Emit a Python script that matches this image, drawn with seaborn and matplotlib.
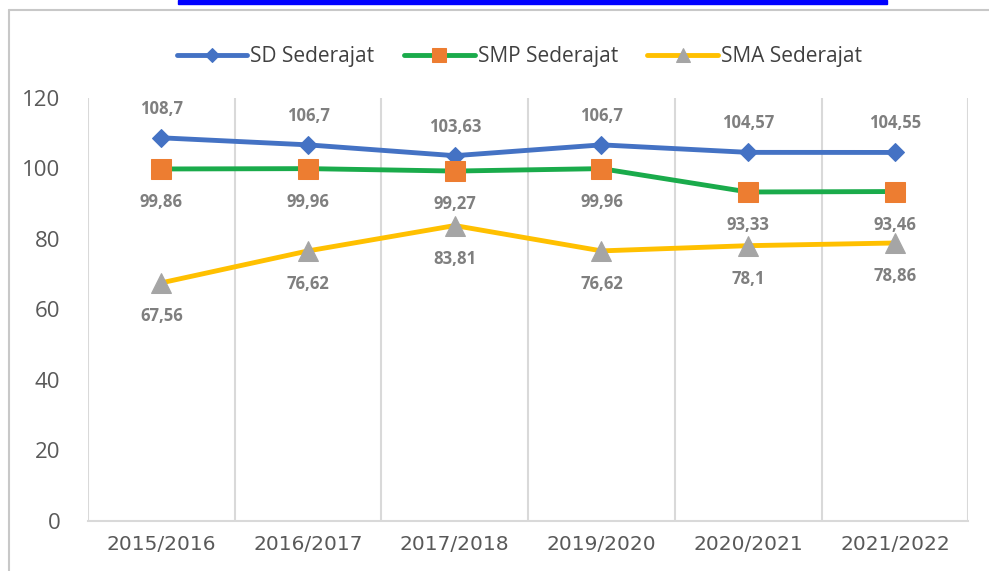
import matplotlib
matplotlib.use("Agg")
import matplotlib.pyplot as plt
import seaborn as sns
import pandas as pd
from matplotlib.lines import Line2D
from matplotlib.patches import Rectangle

# data
tahun = ['2015/2016', '2016/2017', '2017/2018', '2019/2020', '2020/2021', '2021/2022']
sd = [108.7, 106.7, 103.63, 106.7, 104.57, 104.55]
smp = [99.86, 99.96, 99.27, 99.96, 93.33, 93.46]
sma = [67.56, 76.62, 83.81, 76.62, 78.1, 78.86]
series_names = ['SD Sederajat', 'SMP Sederajat', 'SMA Sederajat']

sns.set_theme(style='white')
plt.rcParams['font.family'] = ['Open Sans', 'DejaVu Sans']

fig = plt.figure(figsize=(9.89, 5.71), dpi=100)
ax = fig.add_axes([0.089, 0.0876, 0.890, 0.7408])

styles = [
    # line colour, marker, marker colour, marker size, label offset (pt)
    ('#4472C4', 'D', '#4472C4', 9, 21),
    ('#1AAB4B', 's', '#ED7D31', 14, -24),
    ('#FFC000', '^', '#A5A5A5', 14, -24),
]

for name, vals, (lc, mk, mc, ms, off) in zip(series_names, [sd, smp, sma], styles):
    df = pd.DataFrame({'tahun': tahun, 'nilai': vals})
    sns.lineplot(data=df, x='tahun', y='nilai', ax=ax, color=lc, linewidth=3.5,
                 marker=mk, markersize=ms, markerfacecolor=mc, markeredgecolor=mc,
                 label=name, sort=False)
    for i, v in enumerate(vals):
        txt = f'{v:g}'.replace('.', ',')
        ax.annotate(txt, (i, v), xytext=(0, off), textcoords='offset points',
                    ha='center', va='center', fontsize=12, fontweight='bold',
                    color='#7F7F7F')

ax.set_xlim(-0.5, 5.5)
ax.set_ylim(0, 120)
ax.set_yticks(range(0, 121, 20))
ax.set_xticks(range(len(tahun)))
ax.set_xticklabels(tahun, family='DejaVu Sans')
ax.set_xticks([i - 0.5 for i in range(len(tahun) + 1)], minor=True)
ax.grid(False)
ax.grid(True, which='minor', axis='x', color='#D9D9D9', linewidth=1.5)
ax.tick_params(axis='x', which='both', length=0, pad=10, labelsize=14.5, labelcolor='#595959')
ax.tick_params(axis='y', length=0, pad=20, labelsize=16, labelcolor='#595959')
for s in ['top', 'right', 'left']:
    ax.spines[s].set_visible(False)
ax.spines['bottom'].set_color('#D9D9D9')
ax.spines['bottom'].set_linewidth(1.5)
ax.set_xlabel('')
ax.set_ylabel('')

ax.legend(loc='center', bbox_to_anchor=(0.49, 1.098), ncol=3, frameon=False,
          fontsize=15, handlelength=3.4, columnspacing=1.4, handletextpad=0.15,
          markerscale=0.75, labelcolor='#404040')

# outer chart frame and the cut-off link bar at the top
fig.add_artist(Line2D([9 / 989, 9 / 989], [0, 1 - 10 / 571], color='#C8C8C8', lw=1.5))
fig.add_artist(Line2D([9 / 989, 1], [1 - 10 / 571, 1 - 10 / 571], color='#C8C8C8', lw=1.5))
fig.add_artist(Rectangle((178 / 989, 1 - 4 / 571), (887 - 178) / 989, 4 / 571,
                         color='#0000FF', transform=fig.transFigure))

fig.savefig('out.png', dpi=100)
